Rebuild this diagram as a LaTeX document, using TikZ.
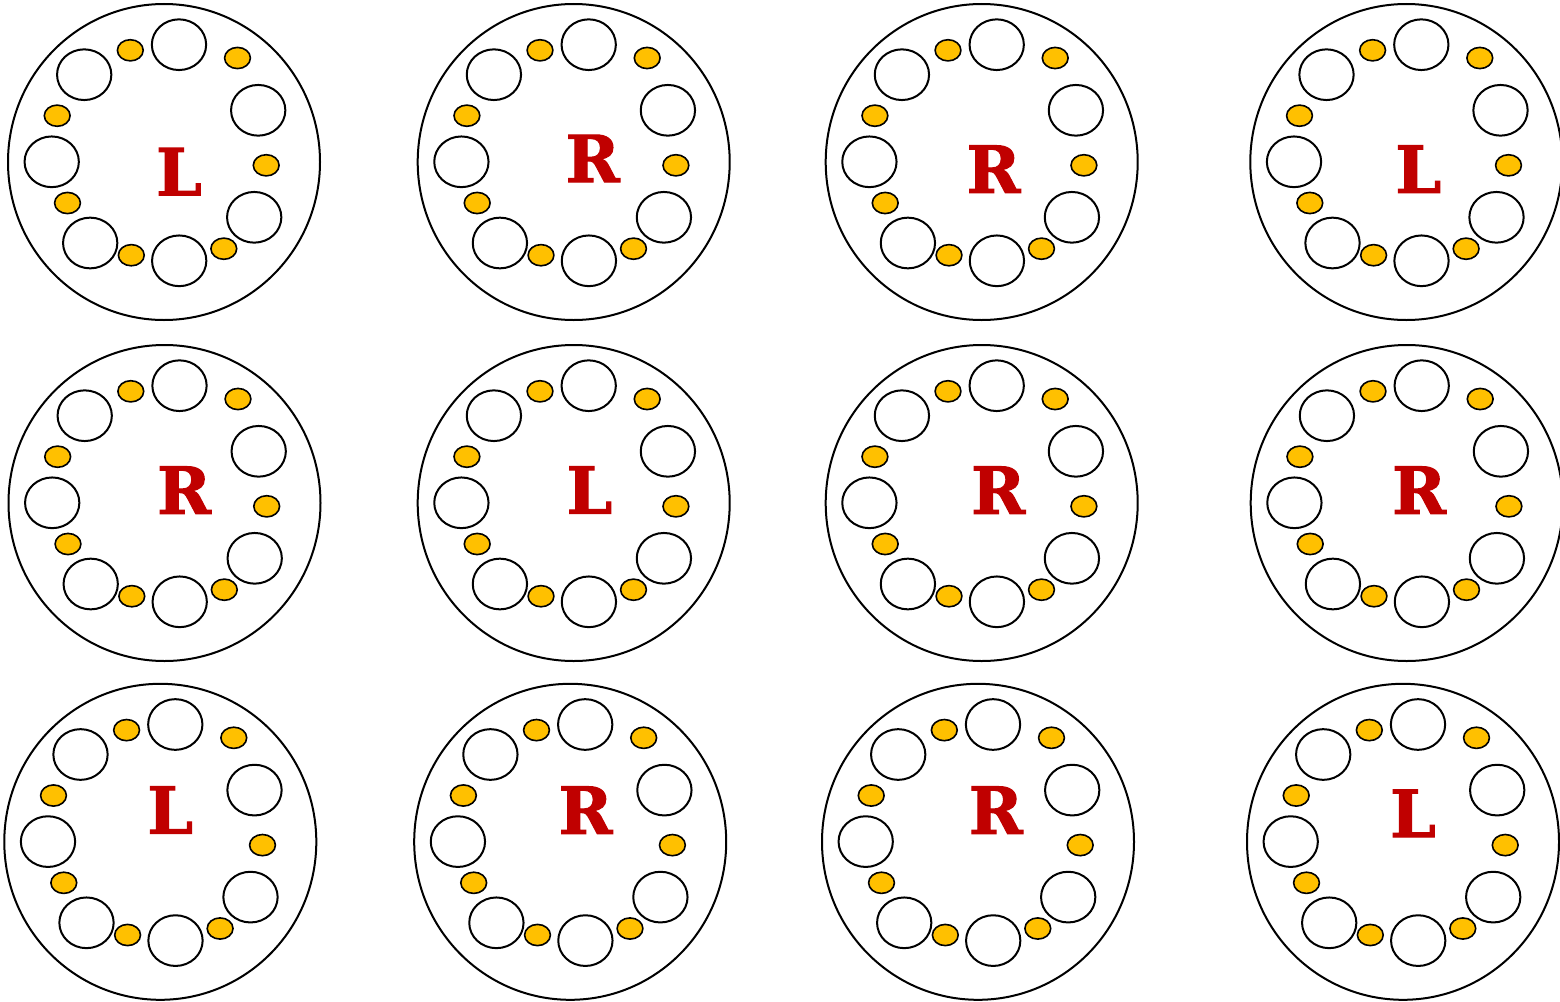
\documentclass[tikz,border=0pt]{standalone}
\usepackage{fontspec}
\usetikzlibrary{shapes.geometric}
\newfontfamily\letterfont{DejaVu Serif}[BoldFeatures={FakeBold=1.6}]
\definecolor{gold}{HTML}{FFC000}
\definecolor{darkred}{HTML}{C00000}
\tikzset{
  outer/.style={ellipse,draw=black,line width=2pt,minimum width=312pt,minimum height=316pt,inner sep=0pt},
  hole/.style={ellipse,draw=black,line width=2pt,fill=white,minimum width=54.3pt,minimum height=50.7pt,inner sep=0pt},
  bead/.style={ellipse,draw=black,line width=1.6pt,fill=gold,minimum width=25.8pt,minimum height=21.2pt,inner sep=0pt},
  letter/.style={text=darkred,inner sep=0pt,font=\letterfont\bfseries\fontsize{65}{65}\selectfont}
}
\newcommand\wheel[6]{%
  \begin{scope}[shift={(#2,#3)}]
    \node[outer] (#1) at (0,0) {};
    \foreach \dx/\dy [count=\i] in {15/-117.3,-79.8/-87.3,94.2/-51.7,-112.3/-0.2,90.2/55.3,-73.8/81,15.2/98.8}
      \node[hole] (#1w\i) at (\dx,\dy) {};
    \foreach \dx/\dy [count=\i] in {-33.7/-111.7,73.5/-104,-106.8/-46.3,102.2/3.3,-96.5/41,-32.7/93.2,59.8/86.7}
      \node[bead] (#1y\i) at (\dx,\dy) {};
  \end{scope}
  \node[letter] (#1t) at (#5,#6) {#4};
}
\begin{document}
\begin{tikzpicture}[x=1pt,y=-1pt]
\useasboundingbox (0,0) rectangle (1560,1001);
\wheel{c1}{164}{162}{L}{179}{171.7}
\wheel{c2}{573.7}{162}{R}{592.7}{158.5}
\wheel{c3}{981.7}{162}{R}{993.5}{169.2}
\wheel{c4}{1406.3}{162}{L}{1418.3}{169.2}
\wheel{c5}{164.5}{503}{R}{184}{490.2}
\wheel{c6}{573.7}{503}{L}{589.5}{490}
\wheel{c7}{981.7}{503}{R}{998.2}{490.2}
\wheel{c8}{1406.7}{503}{R}{1419}{490.2}
\wheel{c9}{160.3}{841.8}{L}{170.2}{810}
\wheel{c10}{570.2}{841.8}{R}{585.5}{810.2}
\wheel{c11}{978}{841.8}{R}{995.8}{810.2}
\wheel{c12}{1403}{841.8}{L}{1413}{813.3}
\end{tikzpicture}
\end{document}
